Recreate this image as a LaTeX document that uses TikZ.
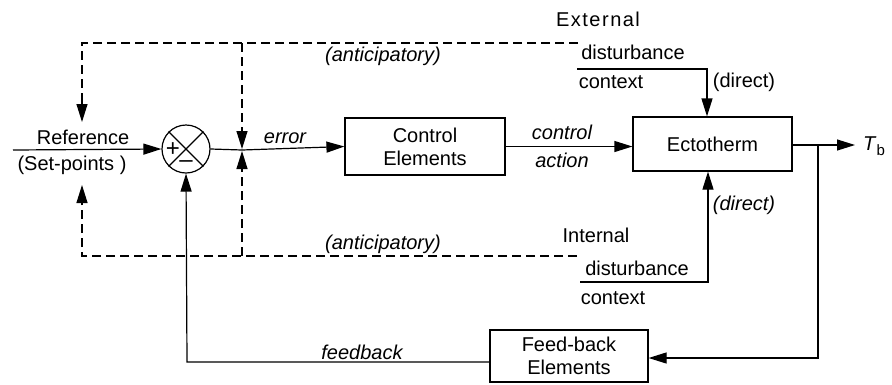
\documentclass[tikz,border=0pt]{standalone}
\usepackage{fontspec}
\setmainfont{Liberation Sans}
\usetikzlibrary{arrows.meta}
\begin{document}
\begin{tikzpicture}[x=1pt,y=-1pt,
  every node/.style={font=\fontsize{20}{24}\selectfont, inner sep=0pt},
  lbl/.style={font=\fontsize{20}{24}\selectfont\itshape},
  box/.style={draw, line width=1.2pt, align=center, font=\fontsize{20}{23}\selectfont},
  arr/.style={-{Triangle[length=18pt,width=11pt]}, line width=1.2pt},
  dsh/.style={dash pattern=on 9pt off 5pt, line width=1.2pt},
  line width=1.2pt]
\useasboundingbox (0,0) rectangle (892,384);

% blocks
\node[draw, circle, minimum size=48pt, line width=1.2pt] (sum) at (186,149) {};
\draw[line width=1.2pt] (sum.north west) -- (sum.south east) (sum.north east) -- (sum.south west);
\node[font=\fontsize{24}{24}\selectfont] (plus) at (173,150) {+};
\node[font=\fontsize{24}{24}\selectfont] (minus) at (186,164) {\textendash};
\node[box, minimum width=160pt, minimum height=57pt] (ctrl) at (425,146.5) {Control\\Elements};
\node[box, minimum width=159pt, minimum height=54pt] (ecto) at (712.5,144) {Ectotherm};
\node[box, minimum width=158pt, minimum height=52pt] (fb) at (569,356) {Feed-back\\Elements};

% texts
\node (ref) at (83,137) {Reference};
\node (setp) at (72,165) {(Set-points )};
\node[lbl] (err) at (285,138) {error};
\node[lbl] (ctl) at (562,132) {control};
\node[lbl] (act) at (562,160) {action};
\node[lbl] (ant1) at (383,56) {(anticipatory)};
\node[lbl] (ant2) at (383,244) {(anticipatory)};
\node (ext) at (598,19) {E\hspace{1.5pt}x\hspace{1.5pt}t\hspace{1.5pt}e\hspace{1.5pt}r\hspace{1.5pt}n\hspace{1.5pt}a\hspace{1.5pt}l};
\node (dist1) at (633,52) {disturbance};
\node (ctx1) at (611,82) {context};
\node (dir1) at (744,82) {(direct)};
\node[lbl] (dir2) at (744,205) {(direct)};
\node (int) at (596,235) {Internal};
\node (dist2) at (637,268) {disturbance};
\node (ctx2) at (613,298) {context};
\node[lbl] (fbl) at (362,352) {feedback};
\node (tb) at (874,146) {\textit{T}\raisebox{-5pt}{\fontsize{15}{15}\selectfont b}};

% coordinates
\coordinate (in) at (13,150);
\coordinate (ej) at (242,150);
\coordinate (br) at (818,145);
\coordinate (oe) at (855,145);
\coordinate (fbc) at (818,358);
\coordinate (fbs) at (187,362);
\coordinate (ex1) at (577,69);
\coordinate (ex2) at (707,69);
\coordinate (in1) at (580,282);
\coordinate (in2) at (708,282);
\coordinate (dt1) at (578,43);
\coordinate (dtL) at (82,43);
\coordinate (dtM) at (242,43);
\coordinate (db1) at (577,256);
\coordinate (dbL) at (82,256);
\coordinate (dbM) at (242,256);
\coordinate (refTop) at (82,122);
\coordinate (refBot) at (82,185);
\coordinate (ejT) at (242,149);
\coordinate (ejB) at (242,151);

% main path
\draw[arr] (in) -- (sum.west);
\draw (sum.east) -- (ej);
\draw[arr] (ej) -- (ctrl.west);
\draw[arr] (ctrl.east) -- (ctrl.east -| ecto.west);
\draw (ecto.east |- br) -- (br);
\draw[arr] (br) -- (oe);
\draw[arr] (br) -- (fbc) -- (fbc -| fb.east);
\draw[arr] (fbs -| fb.west) -- (fbs) -- (sum.south);

% disturbances
\draw[arr] (ex1) -- (ex2) -- (ex2 |- ecto.north);
\draw[arr] (in1) -- (in2) -- (in2 |- ecto.south);

% anticipatory dashed (dashed shafts, solid heads)
\draw[dsh] (dt1) -- (dtL) -- ([yshift=16pt]refTop);
\draw[arr] ([yshift=20pt]refTop) -- (refTop);
\draw[dsh] (dtM) -- ([yshift=16pt]ejT);
\draw[arr] ([yshift=20pt]ejT) -- (ejT);
\draw[dsh] (db1) -- (dbL) -- ([yshift=-16pt]refBot);
\draw[arr] ([yshift=-20pt]refBot) -- (refBot);
\draw[dsh] (dbM) -- ([yshift=-16pt]ejB);
\draw[arr] ([yshift=-20pt]ejB) -- (ejB);
\end{tikzpicture}
\end{document}
